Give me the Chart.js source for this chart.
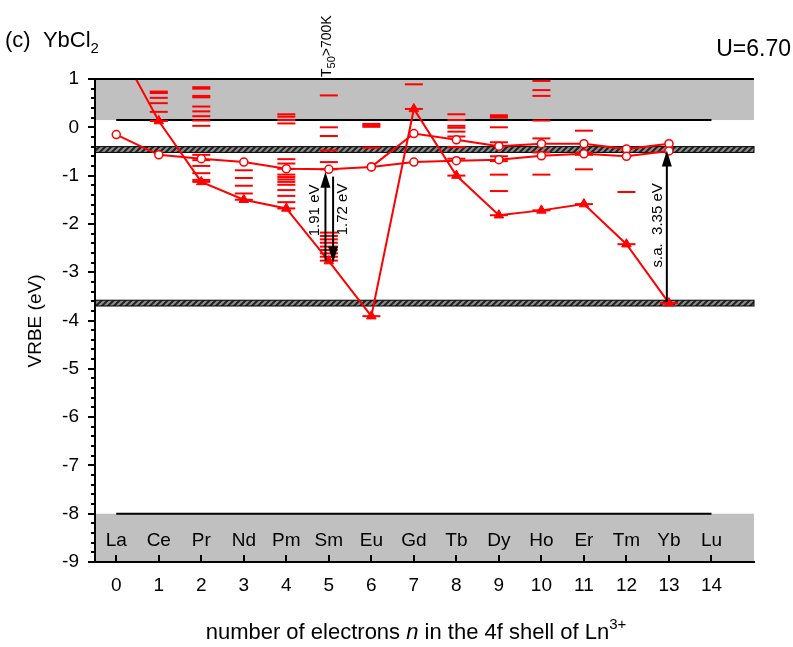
<!DOCTYPE html>
<html>
<head>
<meta charset="utf-8">
<script src="https://cdn.jsdelivr.net/npm/chart.js@4.4.0/dist/chart.umd.min.js"></script>
<style>
body{margin:0;background:#fff}
</style>
</head>
<body>
<canvas id="canva1" width="793" height="647"></canvas>
<script>
var elementos = ["La","Ce","Pr","Nd","Pm","Sm","Eu","Gd","Tb","Dy","Ho","Er","Tm","Yb","Lu"]
var nEletrons = [0,1,2,3,4,5,6,7,8,9,10,11,12,13,14]
var yTicks = [1,0,-1,-2,-3,-4,-5,-6,-7,-8,-9]

// Ln2+ ground states (triangles)
var triangulos = [1.75, 0.13, -1.13, -1.50, -1.68, -2.77, -3.91, 0.38, -1.00, -1.82, -1.72, -1.59, -2.42, -3.64]
// Ln3+ ground states (open circles)
var circulosA = [-0.15, -0.57, -0.65, -0.72, -0.86, -0.87, -0.82, -0.72, -0.69, -0.67, -0.59, -0.55, -0.60, -0.49]
var circulosB = [null, null, null, null, null, null, -0.82, -0.13, -0.26, -0.39, -0.34, -0.34, -0.45, -0.34]

// excited levels (short red dashes), one list per n
var niveis = [
  [],
  [0.74, 0.71, 0.61, 0.50, 0.32, 0.13],
  [0.83, 0.80, 0.65, 0.62, 0.43, 0.33, 0.23, 0.14, 0.03, -0.57, -0.68, -0.80, -0.95, -1.09, -1.13],
  [-0.89, -1.05, -1.21, -1.37, -1.50],
  [0.27, 0.22, 0.15, 0.08, -0.66, -0.75, -0.86, -0.98, -1.03, -1.08, -1.13, -1.19, -1.30, -1.42, -1.55, -1.68],
  [0.66, 0.00, -0.18, -0.48, -0.72, -0.87, -2.18, -2.25, -2.32, -2.39, -2.47, -2.54, -2.61, -2.68, -2.76],
  [0.07, 0.04, 0.01, -0.42, -3.91],
  [0.89, 0.38],
  [0.27, 0.15, 0.03, -0.01, -0.09, -0.19, -0.41, -0.65, -1.00],
  [0.25, 0.22, 0.20, 0.00, -0.31, -0.60, -0.70, -0.98, -1.32, -1.82],
  [0.96, 0.77, 0.65, 0.14, -0.23, -0.52, -0.98, -1.72],
  [-0.07, -0.53, -0.57, -0.87, -1.59],
  [-1.34, -2.42],
  [-3.64]
]

var bandaCinza = [[0.15, 1], [-9, -8]]
var linhaBanda = [0.15, -8]
var bandaHachurada = [[-0.52, -0.40], [-3.70, -3.58]]

var setas = [
  {x: 4.92, de: -2.76, ate: -0.92, texto: "1.91 eV", tx: 4.68, ty: -1.72},
  {x: 5.10, de: -1.02, ate: -2.80, texto: "1.72 eV", tx: 5.32, ty: -1.70},
  {x: 12.95, de: -3.62, ate: -0.48, texto: "s.a.  3.35 eV", tx: 12.75, ty: -2.03}
]

var fonte = "'Liberation Sans', Arial, sans-serif"

function pontos(valores){
  var res = []
  for(var i = 0; i < valores.length; i++){
    res.push({x: i, y: valores[i]})
  }
  return res
}

var tracos = []
for(var n = 0; n < niveis.length; n++){
  for(var k = 0; k < niveis[n].length; k++){
    tracos.push({x: n, y: niveis[n][k]})
  }
}

var linhasPretas = []
for(var i = 0; i < linhaBanda.length; i++){
  linhasPretas.push({x: 0, y: linhaBanda[i]})
  linhasPretas.push({x: 14, y: linhaBanda[i]})
  linhasPretas.push({x: null, y: null})
}

function padraoHachura(ctx){
  var c = document.createElement("canvas")
  c.width = 6; c.height = 6
  var g = c.getContext("2d")
  g.fillStyle = "#8c8c8c"
  g.fillRect(0, 0, 6, 6)
  g.strokeStyle = "#222"
  g.lineWidth = 2
  g.beginPath()
  g.moveTo(-1, 7); g.lineTo(7, -1)
  g.moveTo(-4, 4); g.lineTo(4, -4)
  g.moveTo(2, 10); g.lineTo(10, 2)
  g.stroke()
  return ctx.createPattern(c, "repeat")
}

function seta(ctx, x, y1, y2){
  var dir = y2 < y1 ? -1 : 1
  ctx.strokeStyle = "#000"
  ctx.fillStyle = "#000"
  ctx.lineWidth = 2
  ctx.beginPath()
  ctx.moveTo(x, y1)
  ctx.lineTo(x, y2 - dir * 10)
  ctx.stroke()
  ctx.beginPath()
  ctx.moveTo(x, y2)
  ctx.lineTo(x - 5, y2 - dir * 16)
  ctx.lineTo(x + 5, y2 - dir * 16)
  ctx.closePath()
  ctx.fill()
}

function textoGirado(ctx, txt, x, y, tam){
  ctx.save()
  ctx.translate(x, y)
  ctx.rotate(-Math.PI / 2)
  ctx.font = tam + "px " + fonte
  ctx.textAlign = "center"
  ctx.textBaseline = "middle"
  ctx.fillText(txt, 0, 0)
  ctx.restore()
}

var fundo = {
  id: "fundo",
  beforeDraw: function(chart){
    var ctx = chart.ctx
    var xs = chart.scales.x, ys = chart.scales.y
    var a = chart.chartArea
    ctx.save()
    ctx.fillStyle = "#c0c0c0"
    for(var i = 0; i < bandaCinza.length; i++){
      var t = ys.getPixelForValue(bandaCinza[i][1])
      var b = ys.getPixelForValue(bandaCinza[i][0])
      ctx.fillRect(a.left, t, a.right - a.left, b - t)
    }
    var pat = padraoHachura(ctx)
    for(var i = 0; i < bandaHachurada.length; i++){
      var t = ys.getPixelForValue(bandaHachurada[i][1])
      var b = ys.getPixelForValue(bandaHachurada[i][0])
      ctx.fillStyle = pat
      ctx.fillRect(a.left, t, a.right - a.left, b - t)
      ctx.strokeStyle = "#000"
      ctx.lineWidth = 1
      ctx.strokeRect(a.left, t, a.right - a.left, b - t)
    }
    ctx.restore()
  },
  afterDraw: function(chart){
    var ctx = chart.ctx
    var xs = chart.scales.x, ys = chart.scales.y
    var a = chart.chartArea
    ctx.save()
    // ticks
    ctx.strokeStyle = "#000"
    ctx.lineWidth = 2
    ctx.beginPath()
    for(var v = -9; v <= 1.001; v += 0.2){
      var py = Math.round(ys.getPixelForValue(v))
      var maior = Math.abs(v - Math.round(v)) < 0.01
      ctx.moveTo(a.left, py)
      ctx.lineTo(a.left - (maior ? 7 : 4), py)
    }
    for(var i = 0; i < nEletrons.length; i++){
      var px = Math.round(xs.getPixelForValue(nEletrons[i]))
      ctx.moveTo(px, a.bottom)
      ctx.lineTo(px, a.bottom - 7)
    }
    ctx.moveTo(a.left - 1, a.top)
    ctx.lineTo(a.right, a.top)
    ctx.stroke()

    // element names
    ctx.fillStyle = "#000"
    ctx.font = "19px " + fonte
    ctx.textAlign = "center"
    ctx.textBaseline = "middle"
    for(var i = 0; i < elementos.length; i++){
      ctx.fillText(elementos[i], xs.getPixelForValue(nEletrons[i]), ys.getPixelForValue(-8.56))
    }

    // arrows
    for(var i = 0; i < setas.length; i++){
      var s = setas[i]
      seta(ctx, xs.getPixelForValue(s.x), ys.getPixelForValue(s.de), ys.getPixelForValue(s.ate))
      ctx.fillStyle = "#000"
      textoGirado(ctx, s.texto, xs.getPixelForValue(s.tx), ys.getPixelForValue(s.ty), 15)
    }

    // titles
    textoGirado(ctx, "VRBE (eV)", 36, 321, 19)

    ctx.textAlign = "left"
    ctx.textBaseline = "alphabetic"
    ctx.font = "22px " + fonte
    ctx.fillText("(c)  YbCl", 5, 47)
    var w = ctx.measureText("(c)  YbCl").width
    ctx.font = "15px " + fonte
    ctx.fillText("2", 5 + w, 53)

    ctx.font = "23px " + fonte
    ctx.textAlign = "right"
    ctx.fillText("U=6.70", 791, 56)

    // T50>700K rotated
    ctx.save()
    ctx.translate(331, 77)
    ctx.rotate(-Math.PI / 2)
    ctx.textAlign = "left"
    ctx.font = "14px " + fonte
    ctx.fillText("T", 0, 0)
    var w1 = ctx.measureText("T").width
    ctx.font = "11px " + fonte
    ctx.fillText("50", w1, 4)
    var w2 = ctx.measureText("50").width
    ctx.font = "14px " + fonte
    ctx.fillText(">700K", w1 + w2, 0)
    ctx.restore()

    // x title with italic n and superscript
    var partes = [
      {t: "number of electrons ", f: "22px " + fonte, dy: 0},
      {t: "n", f: "italic 22px " + fonte, dy: 0},
      {t: " in the 4f shell of Ln", f: "22px " + fonte, dy: 0},
      {t: "3+", f: "15px " + fonte, dy: -10}
    ]
    var total = 0
    for(var i = 0; i < partes.length; i++){
      ctx.font = partes[i].f
      total += ctx.measureText(partes[i].t).width
    }
    var x0 = 416 - total / 2
    ctx.textAlign = "left"
    for(var i = 0; i < partes.length; i++){
      ctx.font = partes[i].f
      ctx.fillText(partes[i].t, x0, 639 + partes[i].dy)
      x0 += ctx.measureText(partes[i].t).width
    }
    ctx.restore()
  }
}

const config = {
  type: "scatter",
  data: {
    datasets: [
      {
        data: pontos(circulosA),
        showLine: true,
        borderColor: "#ff0000",
        borderWidth: 2,
        pointStyle: "circle",
        pointRadius: 4,
        pointBackgroundColor: "#ffffff",
        pointBorderColor: "#ff0000",
        pointBorderWidth: 1.5
      },
      {
        data: pontos(circulosB),
        showLine: true,
        spanGaps: false,
        borderColor: "#ff0000",
        borderWidth: 2,
        pointStyle: "circle",
        pointRadius: 4,
        pointBackgroundColor: "#ffffff",
        pointBorderColor: "#ff0000",
        pointBorderWidth: 1.5
      },
      {
        data: pontos(triangulos),
        showLine: true,
        borderColor: "#ff0000",
        borderWidth: 2,
        pointStyle: "triangle",
        pointRadius: 5.5,
        pointBackgroundColor: "#ff0000",
        pointBorderColor: "#ff0000",
        pointBorderWidth: 1
      },
      {
        data: tracos,
        showLine: false,
        pointStyle: "line",
        pointRadius: 9,
        pointBorderColor: "#ff0000",
        pointBorderWidth: 2
      },
      {
        data: linhasPretas,
        showLine: true,
        spanGaps: false,
        borderColor: "#000000",
        borderWidth: 2,
        pointRadius: 0
      }
    ]
  },
  options: {
    responsive: false,
    animation: false,
    layout: {padding: {left: 0, right: 39, top: 79, bottom: 0}},
    plugins: {legend: {display: false}, tooltip: {enabled: false}},
    scales: {
      x: {
        type: "linear",
        min: -0.5,
        max: 15,
        afterBuildTicks: function(s){ s.ticks = nEletrons.map(function(v){ return {value: v} }) },
        afterFit: function(s){ s.height = 85 },
        grid: {display: true, drawOnChartArea: false, drawTicks: false},
        border: {color: "#000", width: 2},
        ticks: {padding: 12, color: "#000", font: {size: 19, family: fonte}, autoSkip: false, maxRotation: 0}
      },
      y: {
        min: -9,
        max: 1,
        afterBuildTicks: function(s){ s.ticks = yTicks.map(function(v){ return {value: v} }) },
        afterFit: function(s){ s.width = 95 },
        grid: {display: true, drawOnChartArea: false, drawTicks: false},
        border: {color: "#000", width: 2},
        ticks: {padding: 16, color: "#000", font: {size: 19, family: fonte}}
      }
    }
  },
  plugins: [fundo]
}

const ctx = document.getElementById("canva1").getContext("2d")
window.chart = new Chart(ctx, config)
</script>
</body>
</html>
